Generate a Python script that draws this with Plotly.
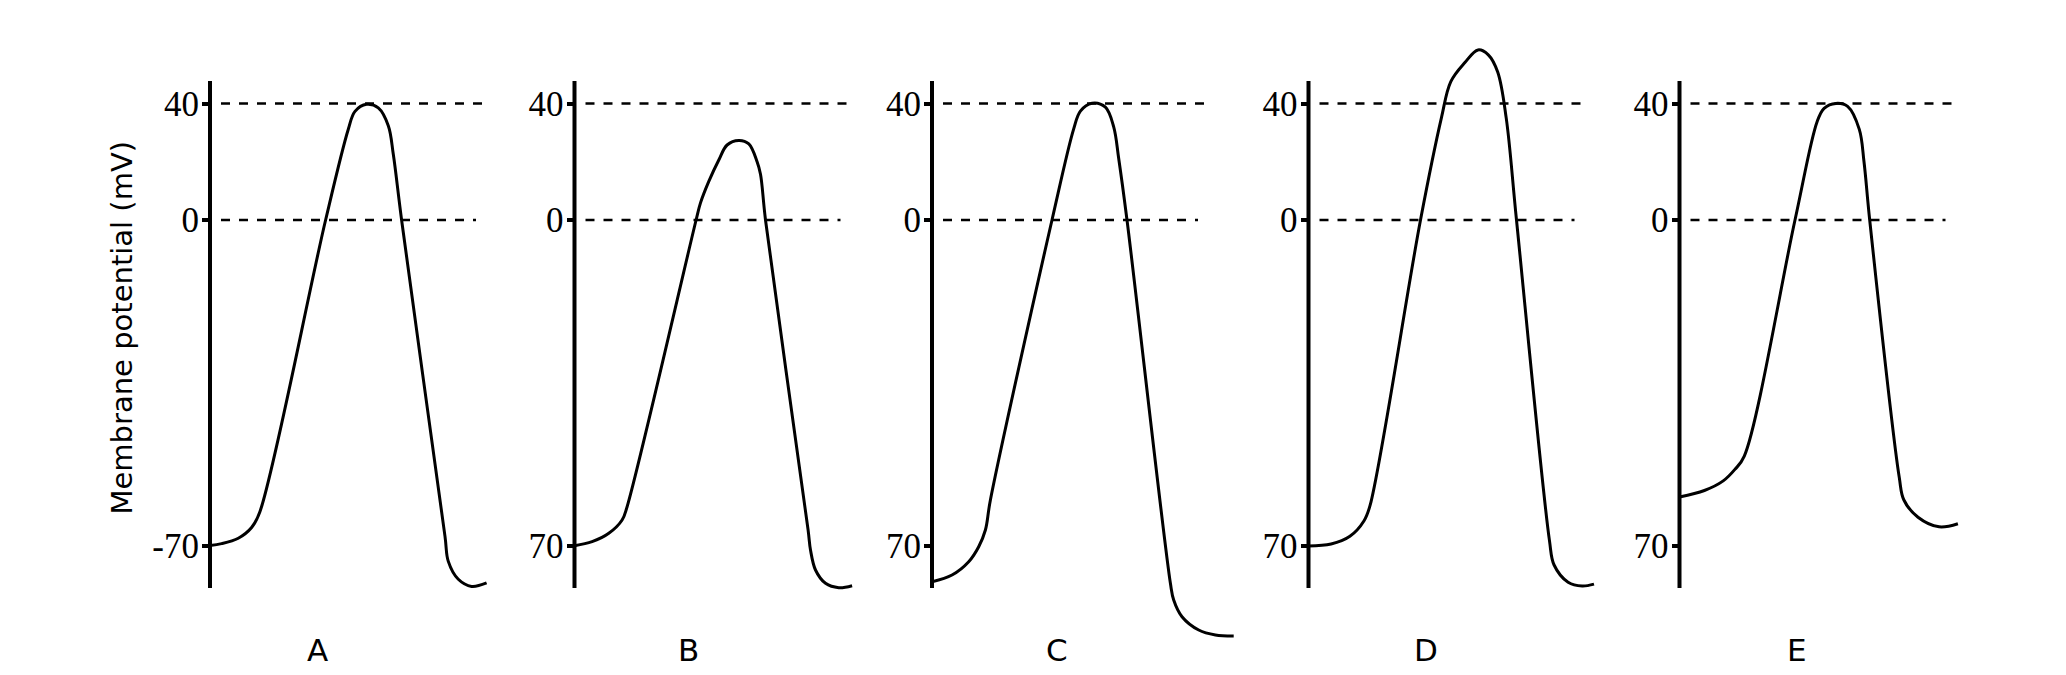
import plotly.graph_objects as go

# the original drawing is not to scale (0..40 is much shorter than 0..-70),
# so y is kept in drawing units: 0 = the 0 mV line, tick labels carry the mV text
panels = ["A", "B", "C", "D", "E"]
tick_vals = [116.4, 0, -325.7]
tick_text = {
    "A": ["40", "0", "-70"],
    "B": ["40", "0", "70"],
    "C": ["40", "0", "70"],
    "D": ["40", "0", "70"],
    "E": ["40", "0", "70"],
}

a_x = [0, 11.6, 28.3, 41.6, 50, 115.6, 138.3, 145, 156.6, 168.3, 178.3, 183.3, 191.6, 235, 238.3, 248.3, 261.6, 276.6]
a_y = [-325.4, -323.6, -318.2, -307.5, -291.4, 0, 90.7, 108.6, 115.7, 112.1, 94.3, 65.7, 0, -316.4, -341.4, -359.3, -366.4, -362.9]

b_x = [0, 17.6, 34.3, 47.6, 52.6, 121.6, 126, 134.3, 144.3, 152.6, 164.3, 174.3, 182.6, 186, 191, 233.6, 236, 241, 251, 264.3, 277.6]
b_y = [-325.7, -321.7, -313.3, -300, -286.7, 0, 17.1, 38.6, 60, 75, 79.6, 76.1, 58.2, 45.7, 0, -310, -330, -350, -363.3, -367.7, -365.7]

c_x = [0, 20, 36.7, 46.7, 53.4, 58.4, 120, 141.7, 148.4, 160, 173.4, 181.7, 186.7, 195, 238.4, 241.7, 250, 266.7, 283.4, 301.7]
c_y = [-361.7, -355, -341.7, -326.7, -310, -280, 0, 91.1, 108.9, 116.8, 112.8, 93.1, 61.5, 0, -363.3, -380, -396.7, -410, -415, -416]

d_x = [0, 22.6, 41.4, 55.4, 61.5, 112, 132.9, 142.3, 156.4, 169.5, 179.8, 189.2, 197.7, 208, 240.9, 245.6, 259.6, 273.7, 285.5]
d_y = [-325.9, -324, -316.3, -301, -285.7, 0, 102.1, 138.4, 157.5, 170.1, 165.2, 148, 102.1, 0, -320.1, -345, -362.2, -366, -364.1]

e_x = [0, 24.9, 43.7, 55.4, 64.8, 115.5, 137.6, 144.6, 156.4, 168.1, 179.8, 184.5, 190.2, 219.7, 224.4, 238.5, 259.6, 278.4]
e_y = [-277, -270.5, -260.9, -249.4, -236.1, 0, 98.3, 111.7, 116.6, 113.6, 90.6, 58.2, 0, -257.1, -280, -297.2, -306.8, -303.7]

curves = {"A": (a_x, a_y), "B": (b_x, b_y), "C": (c_x, c_y), "D": (d_x, d_y), "E": (e_x, e_y)}

# layout (figure pixels; the page adds an 8px body margin)
W, H = 2066, 675
zero_px = 212
panel_w = 320
axis_px = [202, 566.5, 924, 1300.5, 1671.5]
label_x = [107, 114, 125, 117, 117]
spine = (-368, 139)
dash40_end, dash0_end = 274, 266

serif = "Liberation Serif"
sans = "DejaVu Sans"

fig = go.Figure()
layout = {}
shapes = []
annotations = []

for i, name in enumerate(panels):
    n = i + 1
    xa = "x" if n == 1 else f"x{n}"
    ya = "y" if n == 1 else f"y{n}"
    xs, ys = curves[name]
    fig.add_trace(
        go.Scatter(
            x=xs,
            y=ys,
            mode="lines",
            line=dict(color="black", width=3, shape="spline", smoothing=1.0),
            xaxis=xa,
            yaxis=ya,
            showlegend=False,
            hoverinfo="skip",
        )
    )

    layout[f"xaxis{n}"] = dict(
        domain=[axis_px[i] / W, (axis_px[i] + panel_w) / W],
        range=[0, panel_w],
        visible=False,
        anchor=ya,
    )
    layout[f"yaxis{n}"] = dict(
        domain=[0, 1],
        range=[zero_px - H, zero_px],
        anchor=xa,
        showgrid=False,
        zeroline=False,
        showline=False,
        ticks="outside",
        ticklen=7,
        tickwidth=4,
        tickcolor="black",
        tickvals=tick_vals,
        ticktext=tick_text[name],
        ticklabelstandoff=-4,
        tickfont=dict(family=serif, size=35, color="black"),
    )
    # second axis only for the inner half of the crossing tick marks
    layout[f"yaxis{n + 5}"] = dict(
        overlaying=ya,
        anchor=xa,
        side="left",
        range=[zero_px - H, zero_px],
        showgrid=False,
        zeroline=False,
        showline=False,
        ticks="inside",
        ticklen=7,
        tickwidth=4,
        tickcolor="black",
        tickvals=tick_vals,
        showticklabels=False,
    )

    shapes.append(
        dict(type="line", xref=f"{xa} domain", yref=ya, x0=0, x1=0,
             y0=spine[0], y1=spine[1], line=dict(color="black", width=4))
    )
    shapes.append(
        dict(type="line", xref=xa, yref=ya, x0=11, x1=dash40_end,
             y0=tick_vals[0], y1=tick_vals[0],
             line=dict(color="black", width=2.5, dash="9px,9px"))
    )
    shapes.append(
        dict(type="line", xref=xa, yref=ya, x0=11, x1=dash0_end,
             y0=tick_vals[1], y1=tick_vals[1],
             line=dict(color="black", width=2.5, dash="9px,9px"))
    )
    annotations.append(
        dict(text=name, xref=xa, yref="paper", x=label_x[i], y=1 - 642 / H,
             xanchor="center", yanchor="middle", showarrow=False,
             font=dict(family=sans, size=31, color="black"))
    )

annotations.append(
    dict(text="Membrane potential (mV)", xref="paper", yref="paper",
         x=113 / W, y=1 - 319.5 / H, xanchor="center", yanchor="middle",
         textangle=-90, showarrow=False,
         font=dict(family=sans, size=29, color="black"))
)

fig.update_layout(
    width=W,
    height=H,
    margin=dict(l=0, r=0, t=0, b=0),
    paper_bgcolor="white",
    plot_bgcolor="rgba(0,0,0,0)",
    shapes=shapes,
    annotations=annotations,
    **layout,
)

fig.write_html("out.html")
